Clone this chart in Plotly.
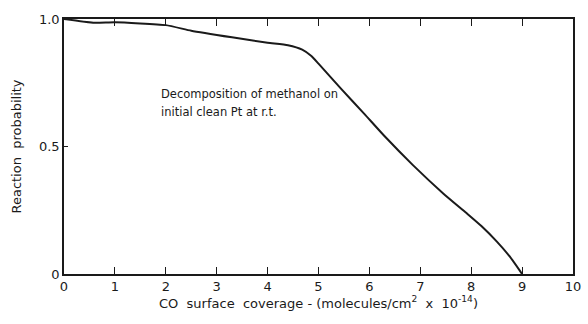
import plotly.graph_objects as go

# CO surface coverage (x 10^14 molecules/cm^2) and reaction probability
coverage = [0.0, 0.6, 1.0, 2.0, 2.5, 3.3, 4.0, 4.4, 4.68, 4.86, 5.0,
            5.45, 5.9, 6.3, 6.85, 7.45, 7.9, 8.2, 8.5, 8.76, 9.0]
probability = [1.0, 0.985, 0.987, 0.976, 0.954, 0.928, 0.907, 0.897, 0.880, 0.855, 0.825,
               0.725, 0.628, 0.540, 0.428, 0.316, 0.240, 0.188, 0.128, 0.068, 0.0]

x_ticks = list(range(0, 11))
y_ticks = [0, 0.5, 1.0]
y_tick_text = ["0", "0.5", "1.0"]

note_lines = ["Decomposition of methanol on", "initial clean Pt at r.t."]

font_family = "DejaVu Sans, Liberation Sans, sans-serif"
ink = "#1a1a1a"

fig = go.Figure()
fig.add_trace(go.Scatter(
    x=coverage, y=probability, mode="lines",
    line=dict(color=ink, width=2, shape="spline", smoothing=0.5),
    hoverinfo="skip", showlegend=False,
))

# two-line note placed inside the plot area
for i, line in enumerate(note_lines):
    fig.add_annotation(
        x=1.87, y=0.705 - i * 0.07, xref="x", yref="y",
        xanchor="left", yanchor="middle",
        text=line, showarrow=False, align="left",
        font=dict(family=font_family, size=11.5, color=ink),
    )

fig.update_layout(
    width=588, height=324,
    margin=dict(l=64, r=7, t=19, b=50),
    paper_bgcolor="white", plot_bgcolor="white",
    font=dict(family=font_family, size=12, color=ink),
    xaxis=dict(
        range=[0, 10], tickvals=x_ticks, ticks="inside", ticklen=7,
        tickcolor=ink, tickwidth=1, showgrid=False, zeroline=False,
        showline=True, linecolor=ink, linewidth=1.5, mirror="ticks",
        title=dict(text="CO  surface  coverage - (molecules/cm<sup>2</sup>  x  10<sup>-14</sup>)",
                   font=dict(size=13), standoff=4),
        tickfont=dict(size=13),
    ),
    yaxis=dict(
        range=[0, 1.0], tickvals=y_ticks, ticktext=y_tick_text,
        ticks="inside", ticklen=4, tickcolor=ink, showgrid=False, zeroline=False,
        showline=True, linecolor=ink, linewidth=1.5, mirror=True,
        title=dict(text="Reaction  probability", font=dict(size=13), standoff=14),
        tickfont=dict(size=13),
    ),
)

fig.write_html("out.html")
